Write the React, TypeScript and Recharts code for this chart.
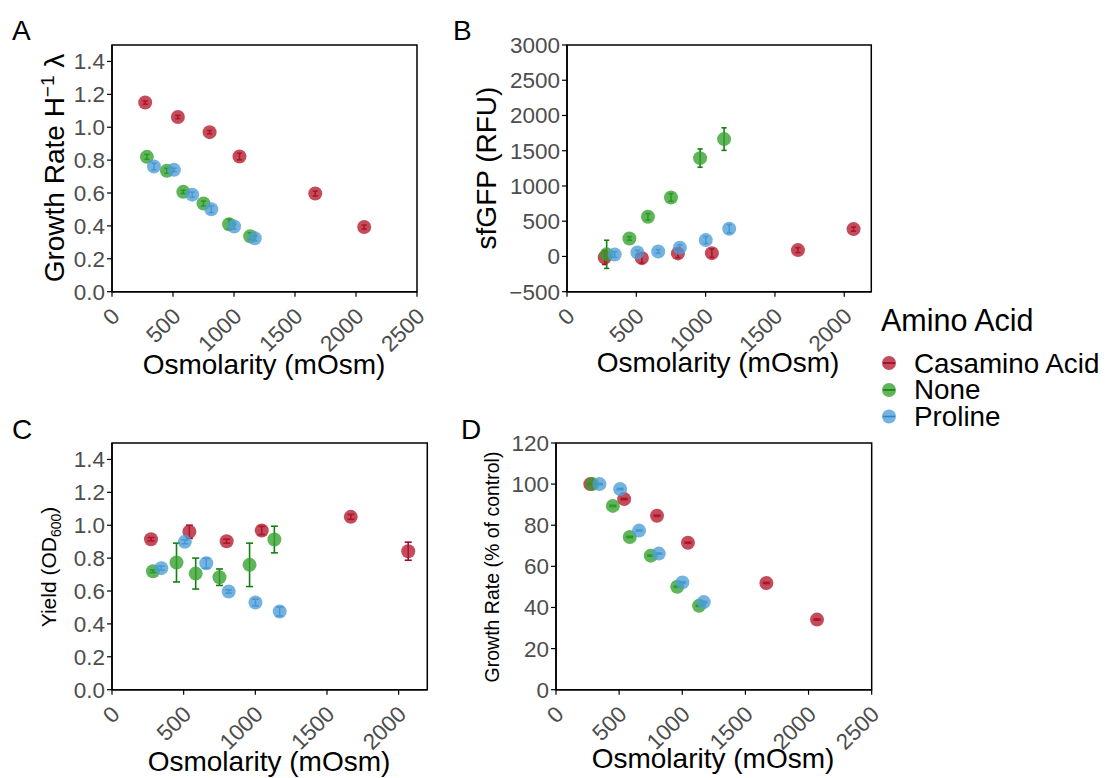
import { ScatterChart, Scatter, XAxis, YAxis, ErrorBar, ReferenceArea } from "recharts";

const FONT = "'Liberation Sans', Arial, Helvetica, sans-serif";

// series
const seriesNames = ["Casamino Acid", "None", "Proline"];
const pointColors = ["#B2182B", "#33A02C", "#4D9DD6"];
const barColors = ["#9A0A26", "#12800F", "#2F86C6"];

// osmolarity (mOsm) per series
const osmCasamino = [272, 540, 800, 1045, 1666, 2067];
const osmNone = [286, 450, 584, 750, 960, 1133];
const osmProline = [344, 508, 658, 814, 1001, 1170];

// A: growth rate
const growthCasamino = [1.15, 1.062, 0.97, 0.822, 0.597, 0.393];
const growthCasaminoErr = [0.01, 0.01, 0.01, 0.02, 0.015, 0.012];
const growthNone = [0.82, 0.735, 0.607, 0.536, 0.41, 0.337];
const growthNoneErr = [0.015, 0.015, 0.01, 0.015, 0.03, 0.02];
const growthProline = [0.761, 0.741, 0.59, 0.501, 0.396, 0.325];
const growthProlineErr = [0.02, 0.01, 0.015, 0.02, 0.015, 0.015];

// B: sfGFP
const gfpCasamino = [-14, -24, 43, 47, 90, 388];
const gfpCasaminoErr = [100, 70, 60, 60, 35, 30];
const gfpNone = [30, 255, 563, 837, 1395, 1665];
const gfpNoneErr = [200, 25, 45, 55, 130, 160];
const gfpProline = [28, 57, 71, 123, 232, 393];
const gfpProlineErr = [40, 30, 25, 40, 50, 60];

// C: yield
const yieldCasamino = [0.915, 0.96, 0.903, 0.968, 1.051, 0.842];
const yieldCasaminoErr = [0.01, 0.04, 0.012, 0.025, 0.015, 0.055];
const yieldNone = [0.72, 0.773, 0.706, 0.684, 0.759, 0.913];
const yieldNoneErr = [0.008, 0.118, 0.094, 0.05, 0.132, 0.081];
const yieldProline = [0.739, 0.899, 0.769, 0.597, 0.53, 0.475];
const yieldProlineErr = [0.012, 0.012, 0.03, 0.01, 0.02, 0.027];

// D: growth rate % of control
const pctCasamino = [100, 92.7, 84.6, 71.5, 51.9, 34.1];
const pctNone = [100, 89.4, 74.3, 65.2, 50.1, 40.8];
const pctProline = [100, 97.6, 77.4, 66.2, 52.2, 42.6];
const pctErr = [0.3, 0.3, 0.3, 0.3, 0.3, 0.3];

// ticks
const xTicksFull = [0, 500, 1000, 1500, 2000, 2500];
const xTicksShort = [0, 500, 1000, 1500, 2000];
const yTicksRate = [0, 0.2, 0.4, 0.6, 0.8, 1.0, 1.2, 1.4];
const yTicksGfp = [-500, 0, 500, 1000, 1500, 2000, 2500, 3000];
const yTicksPct = [0, 20, 40, 60, 80, 100, 120];

const zip = (xs: number[], ys: number[], es: number[]) =>
  xs.map((x, i) => ({ x, y: ys[i], err: es[i] }));

const panelA = [
  zip(osmCasamino, growthCasamino, growthCasaminoErr),
  zip(osmNone, growthNone, growthNoneErr),
  zip(osmProline, growthProline, growthProlineErr),
];
const panelB = [
  zip(osmCasamino, gfpCasamino, gfpCasaminoErr),
  zip(osmNone, gfpNone, gfpNoneErr),
  zip(osmProline, gfpProline, gfpProlineErr),
];
const panelC = [
  zip(osmCasamino, yieldCasamino, yieldCasaminoErr),
  zip(osmNone, yieldNone, yieldNoneErr),
  zip(osmProline, yieldProline, yieldProlineErr),
];
const panelD = [
  zip(osmCasamino, pctCasamino, pctErr),
  zip(osmNone, pctNone, pctErr),
  zip(osmProline, pctProline, pctErr),
];

const TICK_FONT = 22.5;

const RotTick = (p: any) => {
  const ax = p.x + 9;
  const ay = p.y + 19;
  return (
    <text x={ax} y={ay} transform={`rotate(-45, ${ax}, ${ay})`} textAnchor="end" fill="#4D4D4D" fontSize={TICK_FONT} fontFamily={FONT}>
      {p.payload.value}
    </text>
  );
};

type PanelProps = {
  left: number;
  top: number;
  width: number;
  height: number;
  xMax: number;
  xTicks: number[];
  yDomain: [number, number];
  yTicks: number[];
  yFormat: (v: number) => string;
  data: Array<Array<{ x: number; y: number; err: number }>>;
  cap?: number;
};

// plot area sits at (left, top); 90 px left for y ticks, 20 px above, 40 px right, 90 px below
function Panel({ left, top, width, height, xMax, xTicks, yDomain, yTicks, yFormat, data, cap = 2.6 }: PanelProps) {
  return (
    <div style={{ position: "absolute", left: left - 90, top: top - 20 }}>
      <ScatterChart width={width + 130} height={height + 110} margin={{ top: 20, right: 40, bottom: 0, left: 0 }}>
        <XAxis
          type="number"
          dataKey="x"
          domain={[0, xMax]}
          ticks={xTicks}
          interval={0}
          allowDataOverflow
          height={90}
          tickSize={5}
          axisLine={{ stroke: "#000", strokeWidth: 1.5 }}
          tickLine={{ stroke: "#000", strokeWidth: 1.2 }}
          tick={RotTick}
        />
        <YAxis
          type="number"
          dataKey="y"
          domain={yDomain}
          ticks={yTicks}
          interval={0}
          allowDataOverflow
          width={90}
          tickSize={5}
          axisLine={{ stroke: "#000", strokeWidth: 1.5 }}
          tickLine={{ stroke: "#000", strokeWidth: 1.2 }}
          tick={{ fill: "#4D4D4D", fontSize: TICK_FONT, fontFamily: FONT }}
          tickFormatter={yFormat}
        />
        <ReferenceArea x1={0} x2={xMax} y1={yDomain[0]} y2={yDomain[1]} fill="none" stroke="#000" strokeWidth={1.5} />
        {data.map((d, i) => (
          <Scatter
            key={"p" + i}
            data={d}
            isAnimationActive={false}
            shape={(s: any) => <circle cx={s.cx} cy={s.cy} r={7} fill={pointColors[i]} fillOpacity={0.78} />}
          />
        ))}
        {data.map((d, i) => (
          <Scatter key={"e" + i} data={d} isAnimationActive={false} shape={() => <g />}>
            <ErrorBar dataKey="err" direction="y" width={cap} stroke={barColors[i]} strokeWidth={1.6} />
          </Scatter>
        ))}
      </ScatterChart>
    </div>
  );
}

const fmt1 = (v: number) => v.toFixed(1);
const fmtGfp = (v: number) => (v < 0 ? "\u2212" + Math.abs(v) : String(v));
const fmtInt = (v: number) => String(v);

export default function App() {
  return (
    <div style={{ position: "absolute", left: 0, top: 0, width: 1105, height: 778, background: "#fff", fontFamily: FONT, overflow: "hidden" }}>
      <Panel left={111.7} top={45} width={305} height={246.7} xMax={2500} xTicks={xTicksFull} yDomain={[0, 1.5]} yTicks={yTicksRate} yFormat={fmt1} data={panelA} />
      <Panel left={566.7} top={45} width={304.3} height={246.7} xMax={2195} xTicks={xTicksShort} yDomain={[-500, 3000]} yTicks={yTicksGfp} yFormat={fmtGfp} data={panelB} />
      <Panel left={111.7} top={443.3} width={315.3} height={246.7} xMax={2200} xTicks={xTicksShort} yDomain={[0, 1.5]} yTicks={yTicksRate} yFormat={fmt1} data={panelC} cap={3.5} />
      <Panel left={556} top={443.3} width={315.7} height={246.7} xMax={2500} xTicks={xTicksFull} yDomain={[0, 120]} yTicks={yTicksPct} yFormat={fmtInt} data={panelD} cap={3.5} />

      <svg width={1105} height={778} style={{ position: "absolute", left: 0, top: 0, pointerEvents: "none" }} fontFamily={FONT}>
        {/* panel letters */}
        <text x={12} y={40} fontSize={28} fill="#000">A</text>
        <text x={453} y={40} fontSize={28} fill="#000">B</text>
        <text x={12} y={439} fontSize={28} fill="#000">C</text>
        <text x={461} y={439} fontSize={28} fill="#000">D</text>

        {/* x titles */}
        <text x={264} y={374} fontSize={28} textAnchor="middle" fill="#000">Osmolarity (mOsm)</text>
        <text x={718} y={372} fontSize={28} textAnchor="middle" fill="#000">Osmolarity (mOsm)</text>
        <text x={269} y={771} fontSize={28} textAnchor="middle" fill="#000">Osmolarity (mOsm)</text>
        <text x={713} y={768} fontSize={28} textAnchor="middle" fill="#000">Osmolarity (mOsm)</text>

        {/* y titles */}
        <text x={64} y={168} fontSize={28} textAnchor="middle" transform="rotate(-90, 64, 168)" fill="#000">
          Growth Rate H<tspan dy={-10} fontSize={19}>{"\u22121"}</tspan>
          <tspan dy={10}> λ</tspan>
        </text>
        <text x={496} y={168} fontSize={28} textAnchor="middle" transform="rotate(-90, 496, 168)" fill="#000">sfGFP (RFU)</text>
        <text x={56} y={567} fontSize={21} textAnchor="middle" transform="rotate(-90, 56, 567)" fill="#000">
          Yield (OD<tspan dy={5} fontSize={14}>600</tspan>
          <tspan dy={-5}>)</tspan>
        </text>
        <text x={499} y={567} fontSize={19.5} textAnchor="middle" transform="rotate(-90, 499, 567)" fill="#000">Growth Rate (% of control)</text>

        {/* legend */}
        <text x={881} y={331} fontSize={30.5} fill="#000">Amino Acid</text>
        {seriesNames.map((n, i) => {
          const cy = [363, 390, 416.5][i];
          return (
            <g key={n}>
              <circle cx={889} cy={cy} r={7} fill={pointColors[i]} fillOpacity={0.78} />
              <line x1={883} x2={895} y1={cy} y2={cy} stroke={barColors[i]} strokeWidth={1.6} />
              <text x={914} y={[373, 399, 426][i]} fontSize={27.8} fill="#000">{n}</text>
            </g>
          );
        })}
      </svg>
    </div>
  );
}
